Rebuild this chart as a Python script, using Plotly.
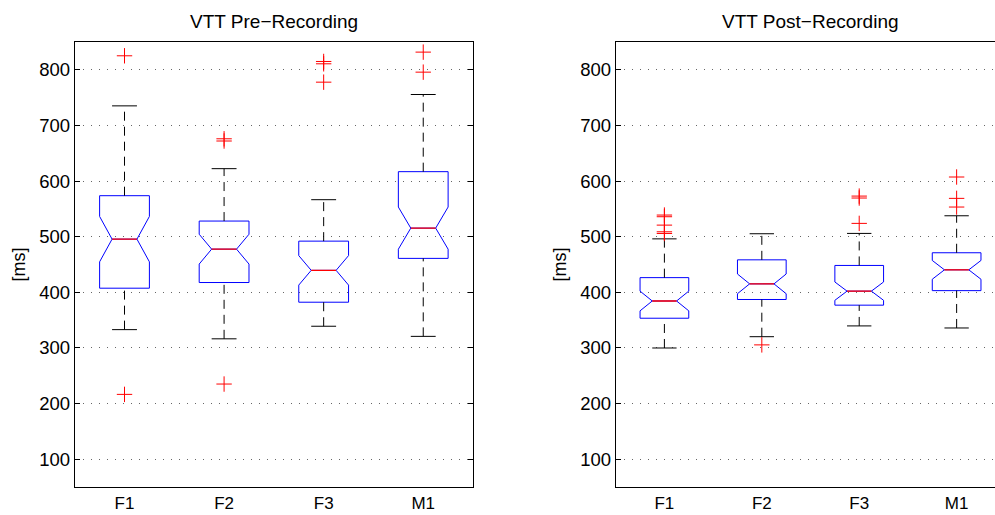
import plotly.graph_objects as go

groups = ["F1", "F2", "F3", "M1"]
positions = [1, 2, 3, 4]
yticks = [100, 200, 300, 400, 500, 600, 700, 800]

# VTT Pre-Recording
pre_q1 = [407.4, 417.6, 382.2, 461.0]
pre_med = [495.6, 477.6, 439.5, 515.4]
pre_q3 = [573.7, 528.1, 492.0, 616.9]
pre_notch = [40.8, 26.8, 26.5, 37.9]
pre_lo = [332.9, 316.4, 339.0, 320.8]
pre_hi = [735.2, 622.3, 566.5, 755.6]
pre_out = [[825.2, 216.5], [676.0, 672.0, 235.1], [815.0, 810.8, 777.8], [831.8, 795.8]]

# VTT Post-Recording
post_q1 = [353.4, 387.1, 376.9, 403.0]
post_med = [384.4, 415.2, 402.1, 440.4]
post_q3 = [426.4, 458.4, 448.3, 471.1]
post_notch = [17.7, 17.7, 16.5, 16.9]
post_lo = [299.9, 320.2, 339.6, 335.9]
post_hi = [496.1, 505.3, 505.9, 537.6]
post_out = [[538.9, 535.9, 520.8, 508.8, 505.8], [305.5], [573.0, 569.5, 523.9], [607.3, 568.9, 553.3]]

BOX_W = 0.5
FONT = "Liberation Sans, Arial, Helvetica, sans-serif"

fig = go.Figure()


def add_panel(q1, med, q3, notch, lo, hi, outs, xa, ya):
    # whiskers (dashed)
    wx, wy = [], []
    for p, a, b, c, d in zip(positions, q1, q3, lo, hi):
        wx += [p, p, None, p, p, None]
        wy += [b, d, None, c, a, None]
    fig.add_trace(go.Scatter(x=wx, y=wy, mode="lines", xaxis=xa, yaxis=ya,
                             line=dict(color="black", width=1, dash="9px,6px"),
                             hoverinfo="skip", showlegend=False))
    # caps
    cx, cy = [], []
    for p, c, d in zip(positions, lo, hi):
        cx += [p - BOX_W / 4, p + BOX_W / 4, None, p - BOX_W / 4, p + BOX_W / 4, None]
        cy += [d, d, None, c, c, None]
    fig.add_trace(go.Scatter(x=cx, y=cy, mode="lines", xaxis=xa, yaxis=ya,
                             line=dict(color="black", width=1),
                             hoverinfo="skip", showlegend=False))
    # notched boxes
    fig.add_trace(go.Box(x=positions, q1=q1, median=med, q3=q3,
                         lowerfence=q1, upperfence=q3, notchspan=notch,
                         notched=True, notchwidth=0.25, width=BOX_W,
                         whiskerwidth=0, boxpoints=False,
                         line=dict(color="#0000ff", width=1),
                         fillcolor="rgba(0,0,0,0)", xaxis=xa, yaxis=ya,
                         showlegend=False))
    # medians (red)
    mx, my = [], []
    for p, m in zip(positions, med):
        mx += [p - BOX_W / 4, p + BOX_W / 4, None]
        my += [m, m, None]
    fig.add_trace(go.Scatter(x=mx, y=my, mode="lines", xaxis=xa, yaxis=ya,
                             line=dict(color="#ff0000", width=1.3),
                             hoverinfo="skip", showlegend=False))
    # outliers
    ox, oy = [], []
    for p, vals in zip(positions, outs):
        for v in vals:
            ox.append(p)
            oy.append(v)
    fig.add_trace(go.Scatter(x=ox, y=oy, mode="markers", xaxis=xa, yaxis=ya,
                             marker=dict(symbol="cross-thin-open", size=11, color="#ff0000",
                                         line=dict(color="#ff0000", width=1)),
                             showlegend=False))


add_panel(pre_q1, pre_med, pre_q3, pre_notch, pre_lo, pre_hi, pre_out, "x", "y")
add_panel(post_q1, post_med, post_q3, post_notch, post_lo, post_hi, post_out, "x2", "y2")

xcommon = dict(tickvals=positions, ticktext=groups, showgrid=False, zeroline=False,
               showline=True, linecolor="black", linewidth=1, mirror=True, ticks="",
               ticklabelstandoff=1, automargin=False,
               tickfont=dict(size=17, color="black", family=FONT))
ycommon = dict(range=[50, 850], tickvals=yticks, showgrid=True, gridcolor="#666666",
               griddash="1px,7px", gridwidth=1, zeroline=False, showline=True,
               linecolor="black", linewidth=1, ticks="inside", ticklen=5,
               tickcolor="black", automargin=False,
               tickfont=dict(size=18.5, color="black", family=FONT),
               title=dict(text="[ms]", font=dict(size=18, color="black", family=FONT),
                          standoff=8))

fig.update_layout(
    width=995, height=515,
    margin=dict(l=0, r=0, t=42, b=28),
    paper_bgcolor="white", plot_bgcolor="white",
    font=dict(family=FONT, color="black"),
    xaxis=dict(domain=[0.0751, 0.4754], range=[0.5, 4.5], **xcommon),
    yaxis=dict(anchor="x", mirror="ticks", **ycommon),
    xaxis2=dict(domain=[0.6188, 1.0], range=[0.5, 4.394], anchor="y2", **xcommon),
    yaxis2=dict(anchor="x2", **ycommon),
    annotations=[
        dict(text="VTT Pre\u2212Recording", x=(0.0751 + 0.4754) / 2, y=1, xref="paper",
             yref="paper", yanchor="bottom", xanchor="center", showarrow=False,
             yshift=8, font=dict(size=19, color="black", family=FONT)),
        dict(text="VTT Post\u2212Recording", x=(0.6188 + 1.0) / 2 + 0.0054, y=1, xref="paper",
             yref="paper", yanchor="bottom", xanchor="center", showarrow=False,
             yshift=8, font=dict(size=19, color="black", family=FONT)),
    ],
)

fig.write_html("out.html")
